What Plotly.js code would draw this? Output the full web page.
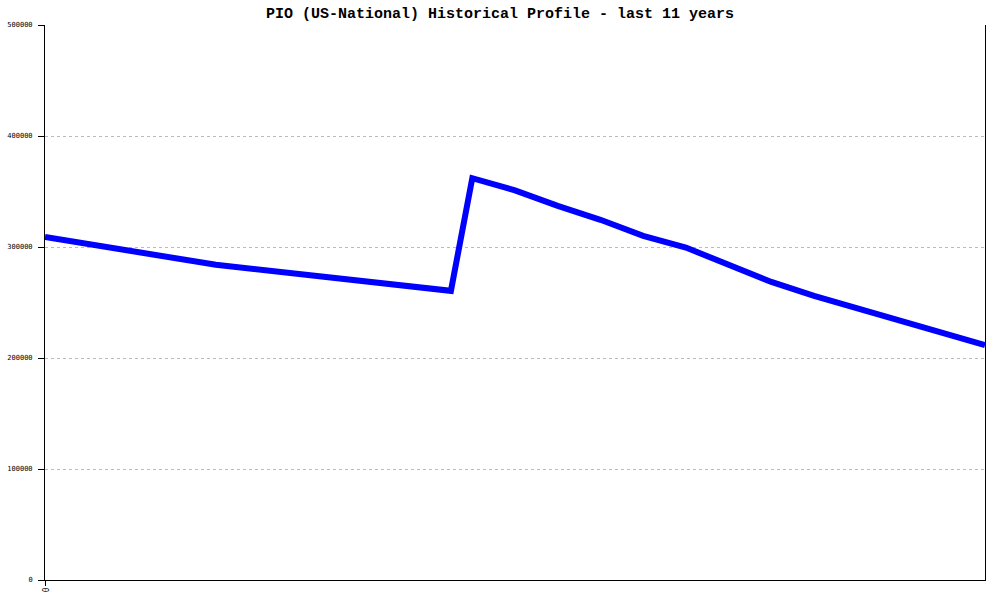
<!DOCTYPE html>
<html>
<head>
<meta charset="utf-8">
<script src="https://cdn.plot.ly/plotly-3.0.1.min.js"></script>
<style>html,body{margin:0;padding:0;background:#fff;}#chart{width:1000px;height:600px;}</style>
</head>
<body>
<div id="chart"></div>
<script>
// Period index (quarters over the last 11 years) and values
const periods = [0, 8, 19, 20, 22, 24, 26, 28, 30, 32, 34, 36, 44];
const values = [309000, 284000, 260500, 362000, 351000, 337000, 324500, 310000, 299500, 284000, 268500, 256000, 211500];
const yTicks = [0, 100000, 200000, 300000, 400000, 500000];
const yTickText = ['0', '100000', '200000', '300000', '400000', '500000'];
const xTickVals = [0];
const xTickText = ['0'];
const titleText = 'PIO (US-National) Historical Profile - last 11 years';

const trace = {
  x: periods,
  y: values,
  type: 'scatter',
  mode: 'lines',
  line: {color: '#0000ff', width: 6},
  hoverinfo: 'skip'
};

const layout = {
  width: 1000,
  height: 600,
  autosize: false,
  paper_bgcolor: '#ffffff',
  plot_bgcolor: '#ffffff',
  showlegend: false,
  margin: {l: 45, r: 15, t: 25, b: 20, pad: 0},
  title: {
    text: titleText,
    font: {family: 'Liberation Mono, DejaVu Sans Mono, monospace', size: 15, color: '#000', weight: 'bold'},
    x: 0.5, xanchor: 'center', y: 0.978, yanchor: 'middle'
  },
  xaxis: {
    range: [0, 44],
    showgrid: false,
    zeroline: false,
    showline: true,
    linecolor: '#000',
    linewidth: 1,
    mirror: false,
    tickmode: 'array',
    tickvals: xTickVals,
    ticktext: xTickText,
    ticks: 'outside',
    ticklen: 5,
    tickcolor: '#000',
    tickangle: 90,
    tickfont: {family: 'DejaVu Sans Mono, monospace', size: 8, color: '#000'}
  },
  yaxis: {
    range: [0, 500000],
    showgrid: true,
    gridcolor: '#bbbbbb',
    griddash: 'dot',
    gridwidth: 1,
    zeroline: false,
    showline: true,
    linecolor: '#000',
    linewidth: 1,
    mirror: true,
    tickmode: 'array',
    tickvals: yTicks,
    ticktext: yTickText,
    ticks: 'outside',
    ticklen: 6,
    tickcolor: '#000',
    ticklabelstandoff: 4,
    tickfont: {family: 'DejaVu Sans Mono, monospace', size: 7, color: '#000'}
  }
};

Plotly.newPlot('chart', [trace], layout, {displayModeBar: false, staticPlot: true});
</script>
</body>
</html>
